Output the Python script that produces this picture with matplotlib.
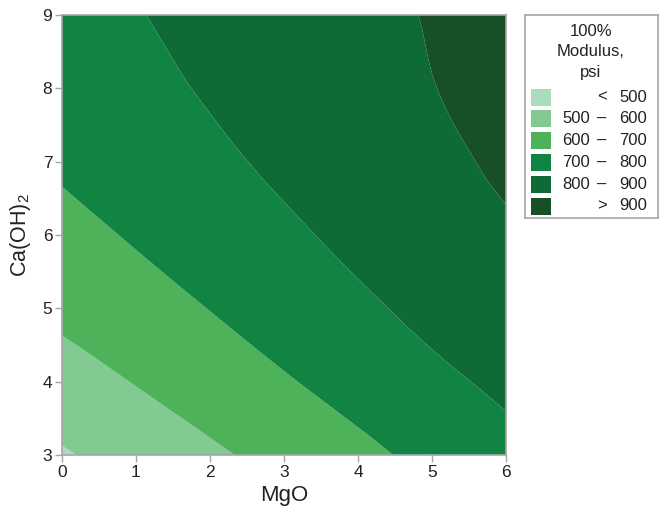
import numpy as np
import matplotlib
matplotlib.use("Agg")
import matplotlib.pyplot as plt
import matplotlib.tri as mtri
from matplotlib.patches import Rectangle

plt.rcParams['font.family'] = ['Liberation Sans', 'DejaVu Sans']
plt.rcParams['mathtext.fontset'] = 'custom'
plt.rcParams['mathtext.rm'] = 'Liberation Sans'
plt.rcParams['mathtext.it'] = 'Liberation Sans'

# grid: rows = Ca(OH)2 3..9, columns = MgO 0..6
mgo = [0, 1, 2, 3, 4, 5, 6]
caoh2 = [3, 4, 5, 6, 7, 8, 9]
modulus = [
    [491, 538, 585, 631, 678, 725, 772],
    [561, 604, 648, 692, 735, 779, 818],
    [621, 661, 702, 743, 783, 824, 860],
    [671, 709, 747, 784, 822, 858, 889],
    [713, 747, 782, 817, 851, 881, 913],
    [745, 776, 808, 840, 869, 898, 926],
    [768, 796, 825, 853, 879, 905, 932],
]

levels = [0, 500, 600, 700, 800, 900, 2000]
level_colors = ['#a9dcbc', '#82c992', '#4eb25b', '#118443', '#0e6b38', '#174f27']
legend_rows = [("", "<", "500"), ("500", "\u2013", "600"), ("600", "\u2013", "700"),
               ("700", "\u2013", "800"), ("800", "\u2013", "900"), ("", ">", "900")]

W, H = 659, 523
fig = plt.figure(figsize=(W / 100, H / 100), dpi=100)
ax = fig.add_axes([62 / W, (H - 455) / H, 444 / W, 440 / H])

X, Y = np.meshgrid(mgo, caoh2)
Z = np.array(modulus, dtype=float)
tri = mtri.Triangulation(X.ravel(), Y.ravel())
interp = mtri.CubicTriInterpolator(tri, Z.ravel(), kind='geom')
xf, yf = np.meshgrid(np.linspace(0, 6, 301), np.linspace(3, 9, 301))
xf = np.clip(xf, 1e-9, 6 - 1e-9)
yf = np.clip(yf, 3 + 1e-9, 9 - 1e-9)
zf = interp(xf, yf)

ax.contourf(xf, yf, zf, levels=levels, colors=level_colors, antialiased=True)
ax.set_xlim(0, 6)
ax.set_ylim(3, 9)
ax.set_xticks(range(0, 7))
ax.set_yticks(range(3, 10))
for s in ax.spines.values():
    s.set_color('#a6a6a6')
    s.set_linewidth(1.2)
ax.tick_params(colors='#a6a6a6', labelcolor='#222222', labelsize=12.5, length=5, width=1, pad=2)
ax.set_xlabel("MgO", fontsize=16, color='#222222', labelpad=4)
ax.set_ylabel("Ca(OH)$_2$", fontsize=15.5, color='#222222', labelpad=7)

# legend drawn by hand in pixel coordinates
lax = fig.add_axes([525 / W, (H - 218) / H, 133 / W, 203 / H])
lax.set_xlim(525, 658)
lax.set_ylim(218, 15)
lax.set_xticks([])
lax.set_yticks([])
for s in lax.spines.values():
    s.set_color('#a6a6a6')
    s.set_linewidth(1.2)
for i, line in enumerate(["100%", "Modulus,", "psi"]):
    lax.text(591, 31 + i * 20.5, line, ha='center', va='center', fontsize=12, color='#222222')
for i, (lo, sep, hi) in enumerate(legend_rows):
    yc = 97 + i * 21.8
    lax.add_patch(Rectangle((531, yc - 8.5), 20, 17, facecolor=level_colors[i], edgecolor='none'))
    lax.text(590, yc, lo, ha='right', va='center', fontsize=12, color='#222222')
    lax.text(602, yc, sep, ha='center', va='center', fontsize=12, color='#222222')
    lax.text(647, yc, hi, ha='right', va='center', fontsize=12, color='#222222')

fig.savefig("out.png", dpi=100)
